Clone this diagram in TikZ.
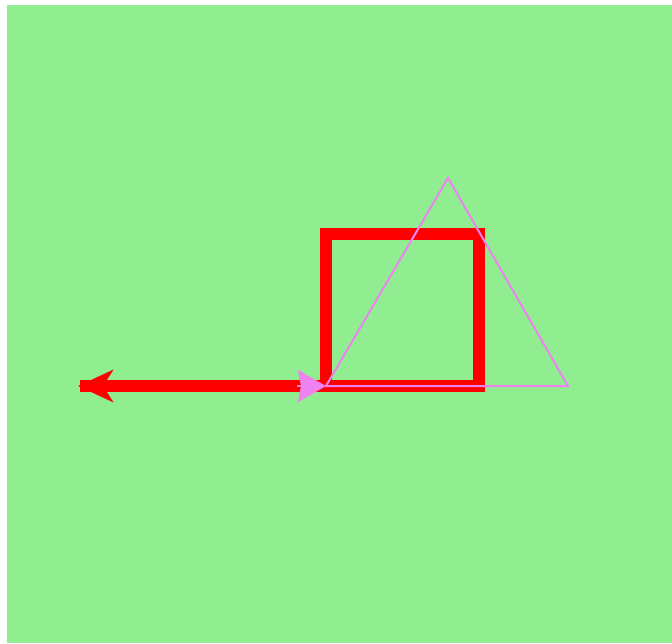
\documentclass[tikz,border=0pt]{standalone}
\usetikzlibrary{arrows.meta}
\definecolor{lightgreen}{HTML}{90EE90}
\definecolor{pinkviolet}{HTML}{EE82EE}

\begin{document}
\begin{tikzpicture}[
    x=1pt, y=-1pt,
    redline/.style={draw=red, line width=12pt},
    pinkline/.style={draw=pinkviolet, line width=2pt},
    redtipstyle/.style={-{Stealth[length=35pt, width=32pt, inset=10pt]}},
    pinktipstyle/.style={-{Stealth[length=28pt, width=32pt, inset=3pt]}}
]
% page with white margin, green field
\useasboundingbox (0,0) rectangle (672,643);
\fill[white] (0,0) rectangle (672,643);
\fill[lightgreen] (7,5) rectangle (672,643);

\coordinate (sq-bl) at (326,386);
\coordinate (sq-tl) at (326,234);
\coordinate (sq-tr) at (479,234);
\coordinate (sq-br) at (479,386);
\coordinate (redtip) at (78,386);
\coordinate (redend) at (80,386);

\coordinate (tri-bl) at (326,386);
\coordinate (tri-top) at (448,178);
\coordinate (tri-br) at (568,386);
\coordinate (pinktail) at (297,386);

% shaft runs right up to the tip, barbs on top
\draw[redline] (sq-bl) -- (redend);
\draw[redline, redtipstyle] (sq-bl) -- (redtip);
\draw[redline] (sq-bl) -- (sq-tl) -- (sq-tr) -- (sq-br) -- (sq-bl);

\draw[pinkline] (tri-bl) -- (tri-top) -- (tri-br) -- cycle;
\draw[pinkline, pinktipstyle] (pinktail) -- (tri-bl);
\end{tikzpicture}
\end{document}
